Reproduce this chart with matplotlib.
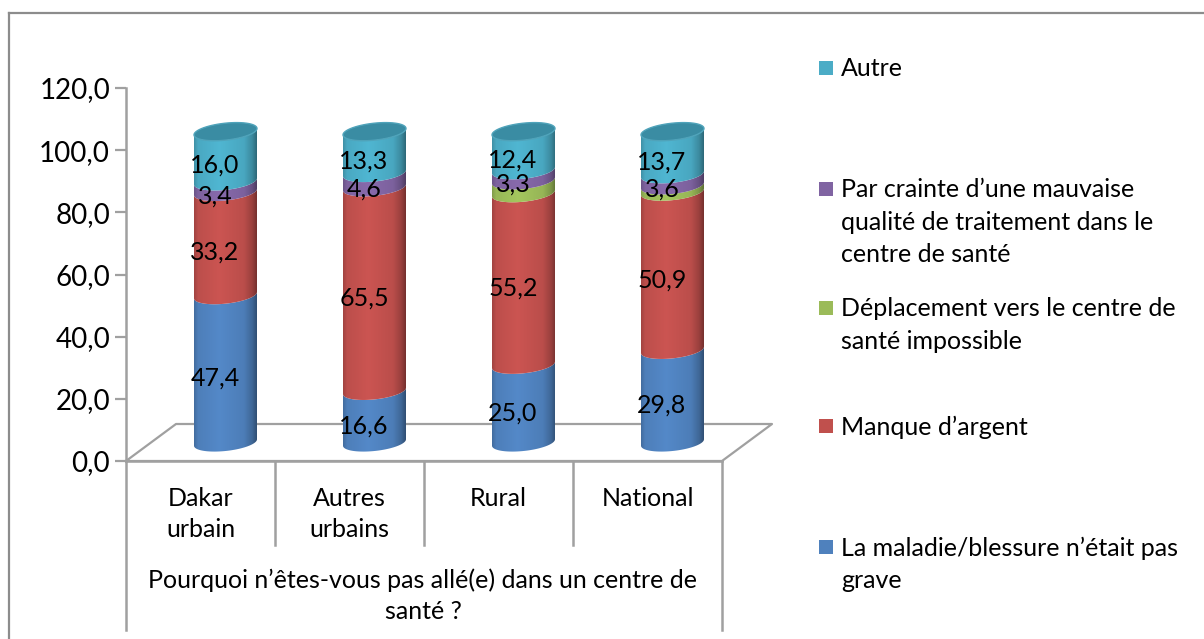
import numpy as np
import matplotlib
matplotlib.use("Agg")
import matplotlib.pyplot as plt
from matplotlib.patches import Polygon, Rectangle
from matplotlib.lines import Line2D

plt.rcParams['font.family'] = ['Lato', 'DejaVu Sans']

W, H = 1204, 639

categories = ["Dakar\nurbain", "Autres\nurbains", "Rural", "National"]
group_label = "Pourquoi n’êtes-vous pas allé(e) dans un centre de\nsanté ?"
yticks = [0, 20, 40, 60, 80, 100, 120]

# bottom to top of each cylinder
maladie = [47.4, 16.6, 25.0, 29.8]
argent = [33.2, 65.5, 55.2, 50.9]
deplacement = [0.0, 0.0, 4.1, 2.0]
crainte = [3.4, 4.6, 3.3, 3.6]
autre = [16.0, 13.3, 12.4, 13.7]

series = [maladie, argent, deplacement, crainte, autre]
colors = ['#4F81BD', '#C0504D', '#9BBB59', '#8064A2', '#4BACC6']
show_labels = [True, True, False, True, True]

legend_labels = [
    "Autre",
    "Par crainte d’une mauvaise\nqualité de traitement dans le\ncentre de santé",
    "Déplacement vers le centre de\nsanté impossible",
    "Manque d’argent",
    "La maladie/blessure n’était pas\ngrave",
]
legend_colors = ['#4BACC6', '#8064A2', '#9BBB59', '#C0504D', '#4F81BD']
legend_y = [68, 189, 308, 426, 547]

GRAY = '#A0A0A0'
FS = 18
TICK_FS = 20

# axes box in pixels of the picture
left, right, top, bottom = 126, 722, 88, 461

fig = plt.figure(figsize=(W / 100, H / 100), dpi=100)
ax = fig.add_axes([left / W, 1 - bottom / H, (right - left) / W, (bottom - top) / H])
ax.set_xlim(-0.5, 3.5)
ax.set_ylim(0, 120)

pxx = 4 / (right - left)
pxy = 120 / (bottom - top)

# depth of the fake 3d floor, pixels
depth_x, depth_y = 50, 37
shift_x, shift_y = depth_x / 2 * pxx, depth_y / 2 * pxy
half_w, lid_b, lid_shear = 31.5, 8.5, 3.2


def arc(cx, v, start, end):
    # sheared ellipse around the bar at value v, in data units
    t = np.linspace(start, end, 60)
    x = half_w * np.cos(t)
    y = lid_b * np.sin(t) + lid_shear * np.cos(t)
    return np.column_stack([cx + x * pxx, v + y * pxy])


def shaded(color):
    rgb = np.array(matplotlib.colors.to_rgb(color))
    pos = np.linspace(0, 1, 64)
    k = np.interp(pos, [0, 0.06, 0.4, 0.8, 0.93, 1], [0.85, 0.98, 1.06, 0.97, 0.8, 0.62])
    return np.clip(rgb[None, None, :] * k[None, :, None], 0, 1)


# floor
fx = [-0.5, -0.5 + depth_x * pxx, 3.5 + depth_x * pxx, 3.5, -0.5]
fy = [0, depth_y * pxy, depth_y * pxy, 0, 0]
ax.plot(fx, fy, color=GRAY, lw=1.6, clip_on=False, zorder=1)

# cylinders
x = np.arange(len(categories))
for i, cx0 in enumerate(x):
    cx = cx0 + shift_x
    base = shift_y
    total = 0
    for s, vals in enumerate(series):
        v = vals[i]
        if v == 0:
            continue
        low = arc(cx, base + total, np.pi, 2 * np.pi)
        high = arc(cx, base + total + v, 2 * np.pi, np.pi)
        poly = Polygon(np.vstack([low, high]), closed=True, transform=ax.transData,
                       facecolor='none', edgecolor='none')
        ax.add_patch(poly)
        im = ax.imshow(shaded(colors[s]), aspect='auto', zorder=2 + s * 0.01, clip_on=True,
                       extent=[cx - half_w * pxx, cx + half_w * pxx, 0, 125],
                       interpolation='bilinear')
        im.set_clip_path(poly)
        if show_labels[s]:
            ax.text(cx - 10.5 * pxx, base + total + v / 2 - 9 * pxy, f"{v:.1f}".replace('.', ','),
                    ha='center', va='center', fontsize=FS, color='black', zorder=5)
        total += v
    lid = arc(cx, base + total, 0, 2 * np.pi)
    ax.add_patch(Polygon(lid, closed=True, facecolor='#3A8CA3', edgecolor='#4FA3BA',
                         lw=1.0, zorder=3))

ax.set_xlim(-0.5, 3.5)
ax.set_ylim(0, 120)

ax.set_yticks(yticks)
ax.set_yticklabels([f"{t:.1f}".replace('.', ',') for t in yticks], fontsize=TICK_FS)
ax.set_xticks(x)
ax.set_xticklabels(categories, fontsize=FS, linespacing=1.43)
ax.tick_params(axis='y', length=8, width=1.6, color=GRAY, pad=3.5)
ax.tick_params(axis='x', length=0, pad=18.5)
for name in ['top', 'right']:
    ax.spines[name].set_visible(False)
for name in ['left', 'bottom']:
    ax.spines[name].set_color(GRAY)
    ax.spines[name].set_linewidth(1.8)
ax.patch.set_alpha(0)

# separators of the two level category axis
trans = ax.get_xaxis_transform()
sep_low = -84 / (bottom - top)
full_low = -169 / (bottom - top)
for b in [0.5, 1.5, 2.5]:
    ax.plot([b, b], [0, sep_low], transform=trans, color=GRAY, lw=1.8, clip_on=False)
for b in [-0.5, 3.5]:
    ax.plot([b, b], [0, full_low], transform=trans, color=GRAY, lw=1.8, clip_on=False)

fig.text(423 / W, 1 - 596 / H, group_label, ha='center', va='center', fontsize=FS, linespacing=1.43)

# legend
for lab, col, ly in zip(legend_labels, legend_colors, legend_y):
    fig.add_artist(Rectangle((819 / W, 1 - (ly + 7) / H), 14 / W, 14 / H, transform=fig.transFigure,
                             facecolor=col, edgecolor='none'))
    fig.text(841 / W, 1 - (ly - 10.5) / H, lab, ha='left', va='top', fontsize=FS, linespacing=1.5)

# chart frame, no right side in the picture
for xs, ys in [([9, 9], [13, 639]), ([9, 1204], [13, 13])]:
    fig.add_artist(Line2D([p / W for p in xs], [1 - p / H for p in ys], transform=fig.transFigure,
                          color='#8C8C8C', lw=1.6))

fig.savefig("out.png", dpi=100)
